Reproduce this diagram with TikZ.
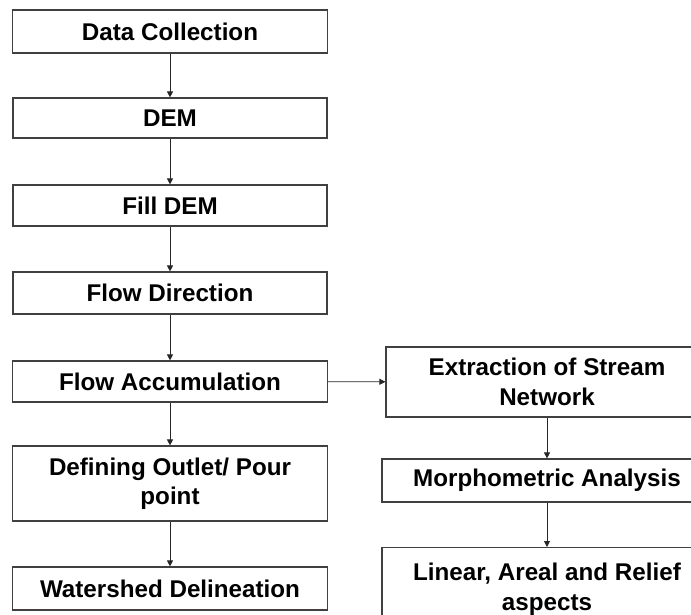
\documentclass[tikz,border=0pt]{standalone}
\usepackage{fontspec}
\setmainfont{Liberation Sans}
\usetikzlibrary{arrows.meta}
\tikzset{
  box/.style={draw=black!75, line width=1.2pt, fill=white, inner sep=0pt,
    align=center, font=\fontsize{24.2}{29.5}\selectfont\bfseries, text=black},
  arr/.style={draw=black!85, line width=0.9pt, -{Triangle[length=6pt,width=6pt]}}
}
\begin{document}
\begin{tikzpicture}[x=1pt,y=-1pt]
\clip (0,0) rectangle (691,614);
\useasboundingbox (0,0) rectangle (691,614);
\fill[white] (0,0) rectangle (691,614);
% left column
\node[box, minimum width=315pt, minimum height=43pt] (dc) at (170,31.5) {Data Collection};
\node[box, minimum width=314pt, minimum height=40pt] (dem) at (170,118) {DEM};
\node[box, minimum width=314pt, minimum height=41pt] (fill) at (170,205.5) {Fill DEM};
\node[box, minimum width=314pt, minimum height=42pt] (fdir) at (170,293) {Flow Direction};
\node[box, minimum width=315pt, minimum height=41pt] (facc) at (170,381.5) {Flow Accumulation};
\node[box, minimum width=315pt, minimum height=75pt] (outl) at (170,483.5) {Defining Outlet/ Pour\\point};
\node[box, minimum width=315pt, minimum height=43pt] (wsd) at (170,588.5) {Watershed Delineation};
% right column
\node[box, minimum width=322pt, minimum height=70pt] (extr) at (547,382) {Extraction of Stream\\Network};
\node[box, minimum width=330pt, minimum height=43pt] (morph) at (547,480.5) {Morphometric Analysis};
\node[box, minimum width=330pt, minimum height=83pt, anchor=north] (lin) at (547,547) {Linear, Areal and Relief\\aspects\vphantom{p}};
% connectors
\draw[arr] (dc) -- (dem);
\draw[arr] (dem) -- (fill);
\draw[arr] (fill) -- (fdir);
\draw[arr] (fdir) -- (facc);
\draw[arr] (facc) -- (outl);
\draw[arr] (outl) -- (wsd);
\draw[arr] (facc) -- (extr);
\draw[arr] (extr) -- (morph);
\draw[arr] (morph) -- (lin);
\end{tikzpicture}
\end{document}
